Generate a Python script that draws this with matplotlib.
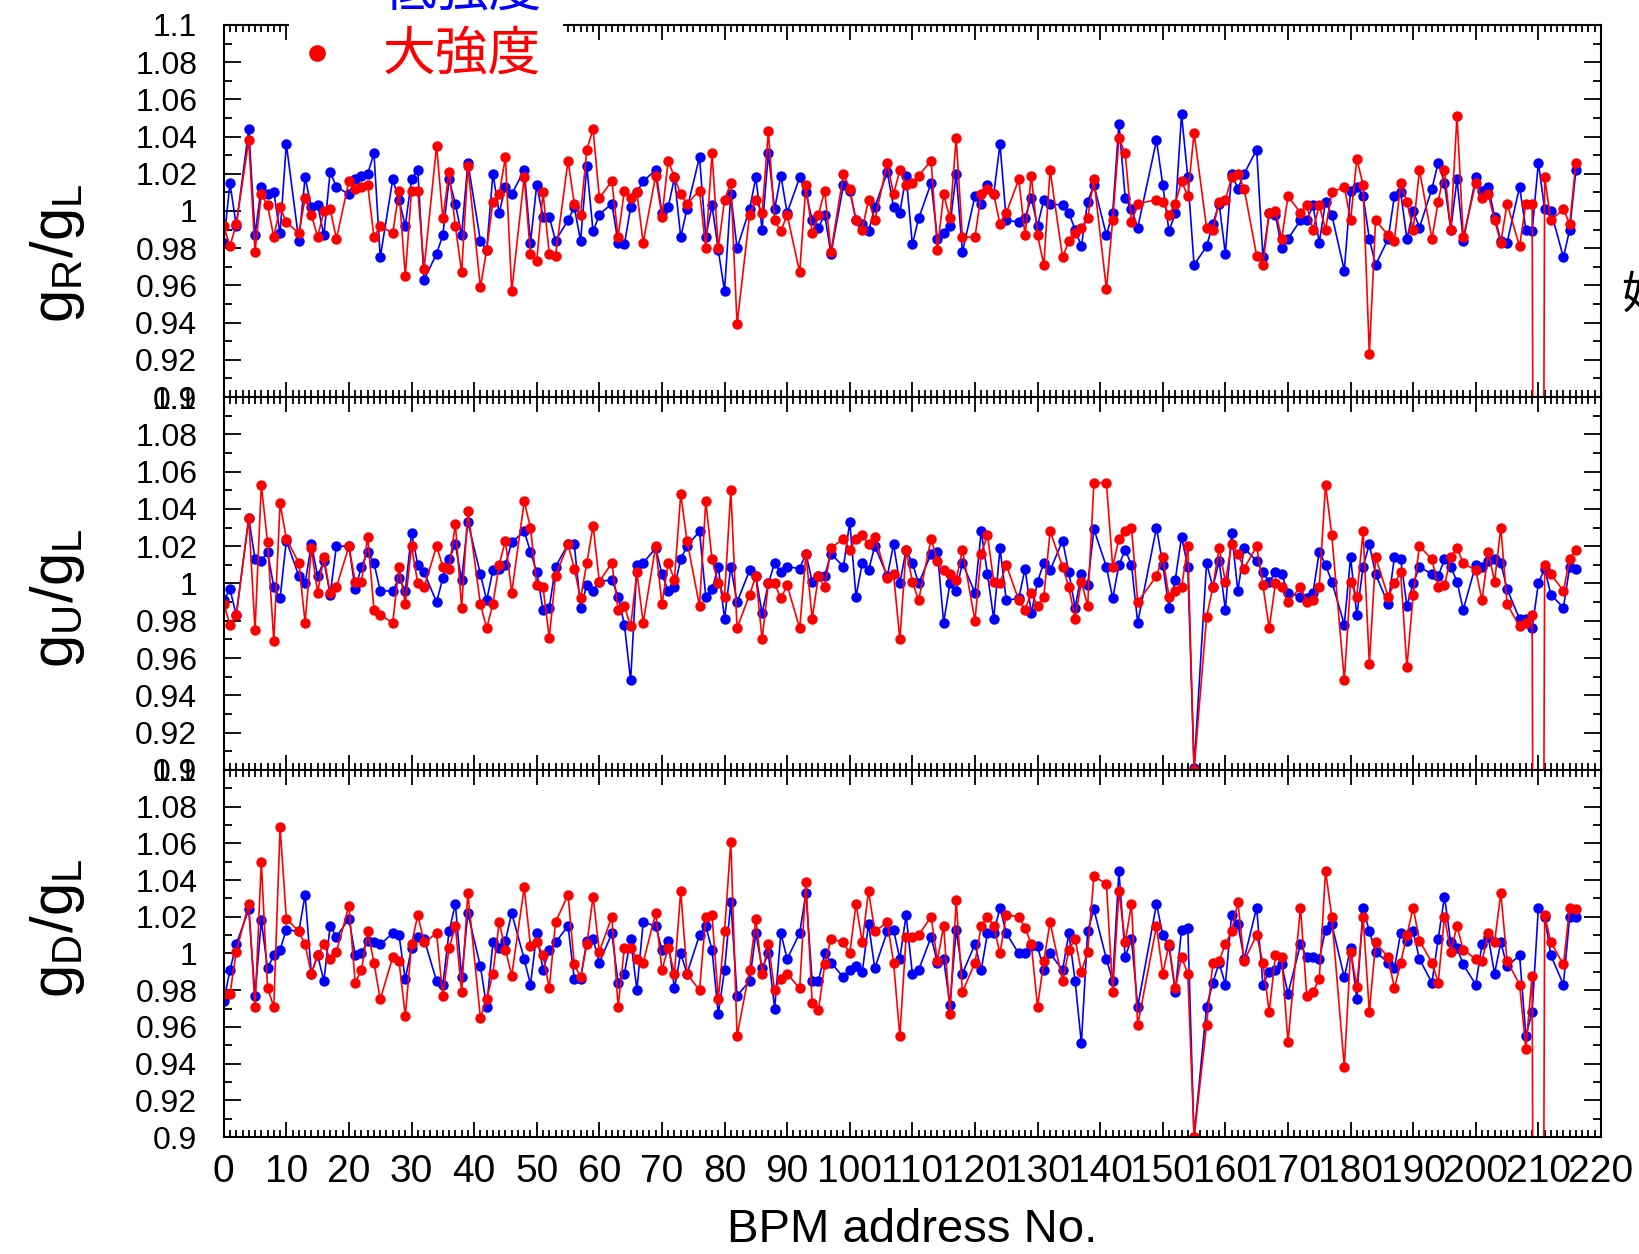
import numpy as np
import matplotlib.pyplot as plt
from matplotlib.ticker import MultipleLocator, FixedLocator, FormatStrFormatter
from matplotlib.patches import Rectangle
from matplotlib.lines import Line2D

plt.rcParams['font.family'] = ['Liberation Sans', 'DejaVu Sans']
plt.rcParams['mathtext.fontset'] = 'custom'
plt.rcParams['mathtext.rm'] = 'Liberation Sans'

###############################################################################
# adresy BPM bez danych (linia laczy punkty ponad nimi)
brakujace = [3, 11, 19, 26, 33, 40, 47, 54, 61, 68, 75, 83, 91, 98, 105, 112,
             119, 126, 133, 140, 147, 148, 156, 164, 171, 178, 185, 192, 199,
             206, 213]
adresy = [a for a in range(217) if a not in brakujace]

# gR/gL
gR_niski = [0.983, 1.015, 0.992,
            1.044, 0.987, 1.013, 1.009, 1.010, 0.988, 1.036,
            0.984, 1.018, 1.002, 1.003, 0.987, 1.021, 1.013,
            1.009, 1.017, 1.019, 1.020, 1.031, 0.975,
            1.017, 1.006, 0.992, 1.017, 1.022, 0.963,
            0.977, 0.987, 1.017, 1.004, 0.987, 1.026,
            0.984, 0.979, 1.020, 0.999, 1.013, 1.009,
            1.022, 0.983, 1.014, 0.997, 0.997, 0.984,
            0.995, 1.002, 0.984, 1.024, 0.989, 0.998,
            1.004, 0.983, 0.982, 1.002, 1.010, 1.016,
            1.022, 0.999, 1.002, 1.018, 0.986, 1.001,
            1.029, 0.986, 1.003, 0.979, 0.957, 1.009, 0.980,
            1.001, 1.018, 0.990, 1.031, 1.001, 1.019, 0.999,
            1.018, 1.010, 0.995, 0.991, 0.998, 0.977,
            1.014, 1.011, 0.995, 0.993, 0.989, 1.002,
            1.021, 1.002, 0.999, 1.019, 0.982, 0.996,
            1.015, 0.985, 0.988, 0.992, 1.020, 0.978,
            1.008, 1.004, 1.014, 1.009, 1.036, 0.995,
            0.994, 0.996, 1.007, 0.992, 1.006, 1.004,
            1.003, 0.999, 0.990, 0.981, 1.005, 1.014,
            0.987, 0.999, 1.047, 1.007, 1.001, 0.991,
            1.038, 1.014, 0.989, 0.999, 1.052, 1.018, 0.971,
            0.981, 0.993, 1.004, 0.977, 1.020, 1.012, 1.020,
            1.033, 0.975, 0.999, 0.998, 0.980, 0.985,
            0.995, 0.995, 1.003, 0.983, 1.005, 0.998,
            0.968, 1.011, 1.013, 1.008, 0.985, 0.971,
            0.985, 1.008, 1.010, 0.985, 1.000, 0.991,
            1.012, 1.026, 1.015, 0.990, 1.017, 0.984,
            1.018, 1.011, 1.013, 0.997, 0.984, 0.983,
            1.013, 0.990, 0.989, 1.026, 1.001, 1.000,
            0.975, 0.990, 1.022]
gR_duzy = [0.992, 0.981, 0.993,
           1.038, 0.978, 1.009, 1.003, 0.986, 1.002, 0.994,
           0.988, 1.007, 0.998, 0.986, 1.000, 1.001, 0.985,
           1.016, 1.012, 1.013, 1.014, 0.986, 0.992,
           0.988, 1.011, 0.965, 1.011, 1.011, 0.969,
           1.035, 0.996, 1.021, 0.992, 0.967, 1.024,
           0.959, 0.979, 1.005, 1.009, 1.029, 0.957,
           1.018, 0.977, 0.973, 1.010, 0.977, 0.976,
           1.027, 1.004, 0.998, 1.033, 1.044, 1.007,
           1.016, 0.986, 1.011, 1.007, 1.010, 0.983,
           1.019, 0.997, 1.027, 1.018, 1.009, 1.004,
           1.011, 0.980, 1.031, 0.980, 1.006, 1.015, 0.939,
           0.998, 1.006, 0.999, 1.043, 0.995, 0.989, 0.998,
           0.967, 1.014, 0.988, 0.998, 1.011, 0.978,
           1.020, 1.012, 0.995, 0.990, 1.006, 0.995,
           1.026, 1.009, 1.022, 1.014, 1.015, 1.019,
           1.027, 0.979, 1.009, 0.996, 1.039, 0.986,
           0.986, 1.009, 1.012, 1.009, 0.993, 0.999,
           1.017, 0.987, 1.019, 0.987, 0.971, 1.022,
           0.975, 0.984, 0.988, 0.991, 0.996, 1.017,
           0.958, 0.995, 1.039, 1.031, 0.994, 1.004,
           1.006, 1.005, 0.998, 1.004, 1.016, 1.008, 1.042,
           0.991, 0.990, 1.005, 1.006, 1.018, 1.020, 1.012,
           0.976, 0.971, 0.999, 1.000, 0.985, 1.008,
           0.999, 1.003, 0.990, 1.003, 0.990, 1.010,
           1.013, 0.995, 1.028, 1.014, 0.923, 0.995,
           0.987, 0.984, 1.015, 1.005, 0.990, 1.022,
           0.985, 1.005, 1.022, 0.990, 1.051, 0.986,
           1.015, 1.007, 1.009, 0.995, 0.983, 1.004,
           0.981, 1.004, 1.004, 0.0, 1.018, 0.995,
           1.001, 0.993, 1.026]

# gU/gL
gU_niski = [0.991, 0.997, 0.983,
            1.035, 1.013, 1.012, 1.017, 0.998, 0.992, 1.023,
            1.004, 1.000, 1.021, 1.004, 1.012, 0.994, 1.020,
            1.020, 0.997, 1.009, 1.017, 1.011, 0.996,
            0.996, 1.003, 0.996, 1.027, 1.010, 1.006,
            0.990, 1.003, 1.013, 1.021, 1.002, 1.033,
            1.005, 0.991, 1.007, 1.008, 1.010, 1.022,
            1.028, 1.017, 1.006, 0.986, 0.987, 1.009,
            1.021, 1.021, 0.987, 0.999, 0.996, 1.001,
            1.002, 0.993, 0.978, 0.948, 1.010, 1.011,
            1.019, 1.005, 0.996, 0.998, 1.013, 1.020,
            1.028, 0.993, 0.997, 1.009, 0.981, 1.009, 0.990,
            1.007, 1.004, 0.984, 1.000, 1.011, 1.006, 1.009,
            1.008, 1.016, 1.001, 1.004, 1.004, 1.016,
            1.009, 1.033, 0.993, 1.011, 1.007, 1.020,
            1.004, 1.021, 1.000, 1.018, 1.011, 1.000,
            1.016, 1.017, 0.979, 1.000, 0.996, 1.011,
            0.995, 1.028, 1.005, 0.981, 1.019, 0.991,
            0.992, 1.008, 0.984, 1.001, 1.011, 1.007,
            1.023, 1.006, 0.987, 1.005, 0.999, 1.029,
            1.009, 0.992, 1.010, 1.018, 1.010, 0.979,
            1.030, 1.010, 0.987, 1.002, 1.025, 1.009, 0.901,
            1.011, 0.998, 1.012, 0.986, 1.027, 0.996, 1.019,
            1.012, 1.006, 1.001, 1.006, 1.005, 0.995,
            0.993, 0.992, 0.995, 1.017, 1.010, 1.001,
            0.978, 1.014, 0.983, 1.009, 1.021, 1.005,
            0.989, 1.014, 1.013, 0.988, 1.000, 1.009,
            1.005, 1.004, 1.013, 1.009, 1.001, 0.986,
            1.010, 1.009, 1.012, 1.013, 1.011, 0.997,
            0.981, 0.981, 0.976, 1.000, 1.008, 0.994,
            0.987, 1.009, 1.008]
gU_duzy = [0.989, 0.978, 0.983,
           1.035, 0.975, 1.053, 1.022, 0.969, 1.043, 1.024,
           1.011, 0.979, 1.019, 0.995, 1.014, 0.995, 0.998,
           1.020, 1.001, 1.001, 1.025, 0.986, 0.983,
           0.979, 1.009, 0.989, 1.020, 1.000, 0.998,
           1.020, 1.009, 1.008, 1.032, 0.987, 1.039,
           0.989, 0.976, 0.989, 1.010, 1.023, 0.995,
           1.044, 1.030, 0.999, 0.998, 0.971, 1.004,
           1.021, 1.008, 0.992, 1.011, 1.031, 1.001,
           1.011, 0.986, 0.988, 0.977, 1.006, 0.979,
           1.020, 0.989, 1.011, 1.002, 1.048, 1.023,
           0.988, 1.044, 1.013, 1.000, 0.993, 1.050, 0.976,
           0.994, 1.004, 0.970, 1.000, 1.000, 0.992, 0.999,
           0.976, 1.016, 0.981, 1.004, 0.998, 1.019,
           1.024, 1.018, 1.024, 1.026, 1.021, 1.025,
           1.003, 1.005, 0.970, 1.018, 1.001, 0.991,
           1.024, 1.012, 1.007, 1.005, 1.002, 1.018,
           0.980, 1.016, 1.026, 1.001, 1.000, 1.010,
           0.991, 0.986, 0.995, 0.988, 0.993, 1.028,
           1.009, 0.998, 0.981, 1.001, 0.988, 1.054,
           1.054, 1.009, 1.024, 1.028, 1.030, 0.990,
           1.004, 1.014, 0.993, 0.996, 0.998, 1.020, 0.900,
           0.982, 0.998, 1.019, 1.001, 1.021, 1.016, 1.008,
           1.020, 0.999, 0.976, 1.000, 0.998, 0.990,
           0.998, 0.990, 0.991, 0.998, 1.053, 1.026,
           0.948, 1.001, 0.993, 1.028, 0.957, 1.014,
           0.993, 1.000, 1.006, 0.955, 0.994, 1.020,
           1.013, 0.998, 0.999, 1.014, 1.019, 1.011,
           1.007, 0.991, 1.017, 1.001, 1.030, 0.989,
           0.977, 0.979, 0.983, 0.0, 1.010, 1.005,
           0.996, 1.013, 1.018]

# gD/gL
gD_niski = [0.974, 0.991, 1.005,
            1.024, 0.977, 1.018, 0.992, 0.999, 1.002, 1.013,
            1.012, 1.032, 0.989, 0.999, 0.985, 1.015, 1.009,
            1.019, 0.999, 1.000, 1.007, 1.006, 1.005,
            1.011, 1.010, 0.986, 1.003, 1.009, 1.008,
            0.985, 0.983, 1.012, 1.027, 0.987, 1.022,
            0.993, 0.971, 1.006, 1.003, 1.007, 1.022,
            0.997, 0.983, 1.011, 0.991, 1.002, 1.006,
            1.015, 0.986, 0.986, 1.007, 1.008, 0.995,
            1.011, 0.984, 0.989, 1.008, 0.980, 1.017,
            1.015, 1.002, 1.007, 0.981, 1.000, 0.989,
            1.010, 1.015, 1.002, 0.967, 0.991, 1.028, 0.977,
            0.985, 1.011, 0.992, 1.000, 0.970, 1.011, 0.997,
            1.011, 1.033, 0.985, 0.985, 1.000, 0.995,
            0.987, 0.991, 0.993, 0.990, 1.016, 0.992,
            1.012, 1.013, 0.997, 1.021, 0.989, 0.991,
            1.009, 0.995, 0.997, 0.972, 1.013, 0.989,
            1.005, 0.991, 1.011, 1.011, 1.025, 1.011,
            1.000, 1.000, 1.004, 1.004, 0.991, 1.000,
            0.991, 1.011, 0.985, 0.951, 1.012, 1.024,
            0.997, 0.985, 1.045, 0.998, 1.008, 0.971,
            1.027, 1.010, 1.004, 0.979, 1.013, 1.014, 0.900,
            0.971, 0.984, 0.995, 0.983, 1.021, 1.016, 0.997,
            1.025, 0.983, 0.990, 0.991, 0.994, 0.978,
            1.005, 0.998, 0.998, 0.997, 1.013, 1.016,
            0.987, 1.003, 0.975, 1.025, 1.012, 1.001,
            0.995, 0.992, 1.011, 1.007, 1.012, 0.997,
            0.984, 1.008, 1.031, 1.006, 1.003, 0.994,
            0.983, 1.005, 1.009, 0.989, 1.006, 0.993,
            0.999, 0.955, 0.968, 1.025, 1.020, 0.999,
            0.983, 1.020, 1.020]
gD_duzy = [0.978, 0.978, 1.001,
           1.027, 0.971, 1.050, 0.981, 0.971, 1.069, 1.019,
           1.012, 1.005, 0.989, 0.999, 1.005, 0.997, 1.001,
           1.026, 0.984, 0.991, 1.012, 0.995, 0.975,
           0.998, 0.996, 0.966, 1.005, 1.021, 1.006,
           1.011, 0.977, 1.003, 1.015, 0.979, 1.033,
           0.965, 0.975, 0.989, 1.017, 1.002, 0.988,
           1.036, 1.004, 1.006, 0.999, 0.981, 1.017,
           1.032, 0.994, 0.987, 1.005, 1.031, 1.001,
           1.020, 0.971, 1.003, 1.003, 0.997, 0.995,
           1.022, 0.991, 1.003, 0.989, 1.034, 0.989,
           0.980, 1.020, 1.021, 0.975, 1.012, 1.061, 0.955,
           0.991, 1.019, 0.989, 1.005, 0.980, 0.986, 0.989,
           0.981, 1.039, 0.973, 0.969, 0.994, 1.008,
           1.006, 1.000, 1.027, 1.006, 1.034, 1.012,
           1.017, 0.995, 0.955, 1.009, 1.009, 1.010,
           1.020, 0.996, 1.015, 0.967, 1.029, 0.979,
           0.995, 1.015, 1.020, 1.015, 1.000, 1.021,
           1.020, 1.014, 1.005, 0.971, 0.996, 1.017,
           0.985, 1.002, 1.008, 0.990, 1.001, 1.042,
           1.038, 0.979, 1.034, 1.006, 1.027, 0.961,
           1.015, 0.989, 1.005, 0.981, 0.998, 0.989, 0.900,
           0.961, 0.995, 0.996, 1.005, 1.012, 1.028, 0.996,
           1.010, 0.995, 0.968, 0.999, 0.998, 0.952,
           1.025, 0.977, 0.979, 0.986, 1.045, 1.020,
           0.938, 1.001, 0.982, 1.020, 0.968, 1.006,
           0.998, 0.981, 0.995, 1.010, 1.025, 1.007,
           0.995, 0.984, 1.020, 1.001, 1.015, 1.002,
           0.997, 0.996, 1.011, 1.006, 1.033, 0.996,
           0.983, 0.948, 0.988, 0.0, 1.021, 1.006,
           0.994, 1.025, 1.024]

etykiety_y = [r'$\mathrm{g_R/g_L}$', r'$\mathrm{g_U/g_L}$', r'$\mathrm{g_D/g_L}$']
legenda = ['低強度', '大強度']

###############################################################################
def rysuj_panel(ax, niski, duzy, pokaz_x):
    ax.plot(adresy, niski, '-o', color='#0000ff', lw=1.2, ms=7.5, mew=0)
    ax.plot(adresy, duzy, '-o', color='#ff0000', lw=1.2, ms=7.5, mew=0)
    ax.set_xlim(0, 220)
    ax.set_ylim(0.9, 1.1)
    ax.xaxis.set_major_locator(MultipleLocator(10))
    ax.xaxis.set_minor_locator(MultipleLocator(1))
    ax.yaxis.set_major_locator(FixedLocator(np.round(np.arange(0.9, 1.1001, 0.02), 2)))
    ax.yaxis.set_minor_locator(MultipleLocator(0.01))
    ax.yaxis.set_major_formatter(FormatStrFormatter('%g'))
    ax.tick_params(which='both', direction='in', top=True, right=True, width=1.3)
    ax.tick_params(axis='y', which='major', length=12, labelsize=23, pad=19)
    ax.tick_params(axis='y', which='minor', length=6)
    ax.tick_params(axis='x', which='major', length=11, labelsize=28, pad=12)
    ax.tick_params(axis='x', which='minor', length=5)
    if not pokaz_x:
        ax.tick_params(axis='x', labelbottom=False)
    for s in ax.spines.values():
        s.set_linewidth(1.5)


fig = plt.figure(figsize=(16.39, 12.54), dpi=100)
pozycje = [[0.1365, 0.6834, 0.8403, 0.2967],
           [0.1365, 0.3860, 0.8403, 0.2974],
           [0.1365, 0.0933, 0.8403, 0.2927]]
dane = [(gR_niski, gR_duzy), (gU_niski, gU_duzy), (gD_niski, gD_duzy)]
y_etykiety = [0.798, 0.523, 0.260]

for i in range(3):
    ax = fig.add_axes(pozycje[i])
    rysuj_panel(ax, dane[i][0], dane[i][1], i == 2)
    fig.text(0.035, y_etykiety[i], etykiety_y[i], rotation=90, fontsize=43,
             ha='center', va='center')
    if i == 2:
        ax.set_xlabel('BPM address No.', fontsize=34, labelpad=13)

# legenda (biale tlo zaslania gorna os)
fig.add_artist(Rectangle((0.1763, 0.924), 0.1672, 0.08, transform=fig.transFigure,
                         facecolor='white', edgecolor='none', zorder=5))
fig.add_artist(Line2D([317 / 1639], [1 - 53 / 1254], marker='o', color='#ff0000',
                      ms=12, mew=0, transform=fig.transFigure, zorder=6))
fig.text(383 / 1639, 1 + 9 / 1254, legenda[0], color='#0000ff', fontsize=38,
         ha='left', va='center', family=['Noto Sans CJK JP'], zorder=6)
fig.text(383 / 1639, 1 - 55 / 1254, legenda[1], color='#ff0000', fontsize=38,
         ha='left', va='center', family=['Noto Sans CJK JP'], zorder=6)
fig.text(1621 / 1639, 1 - 295 / 1254, '妨', color='black', fontsize=32,
         ha='left', va='center', family=['Noto Sans CJK JP'])

fig.savefig('out.png', dpi=100)
